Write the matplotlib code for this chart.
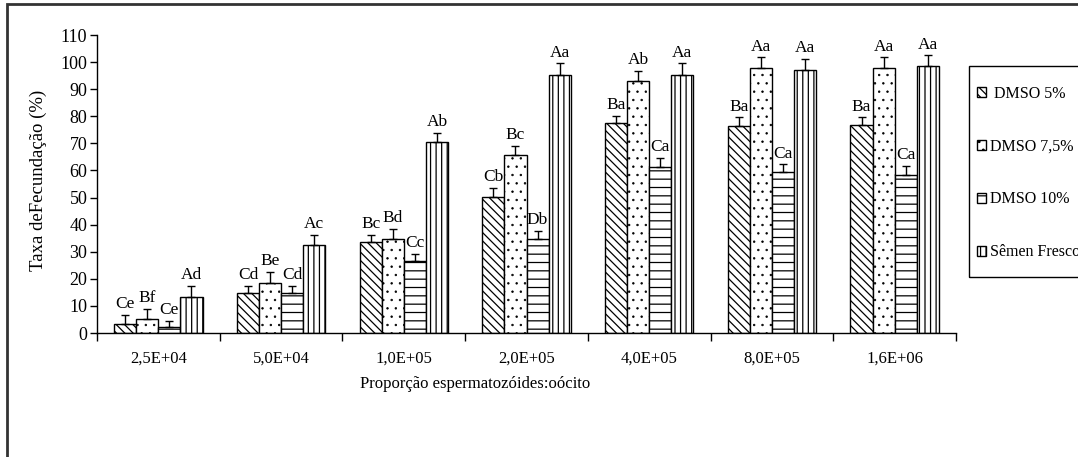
import numpy as np
import matplotlib.pyplot as plt
import matplotlib as mpl
from matplotlib.patches import Rectangle

mpl.rcParams.update({"font.family": ["Liberation Serif", "DejaVu Serif"],
                     "hatch.linewidth": 0.9, "hatch.color": "black"})

categories = ["2,5E+04", "5,0E+04", "1,0E+05", "2,0E+05", "4,0E+05", "8,0E+05", "1,6E+06"]
series = [" DMSO 5%", "DMSO 7,5%", "DMSO 10%", "Sêmen Fresco"]

dmso5 = [3.3, 14.6, 33.5, 50.3, 77.4, 76.3, 76.9]
dmso75 = [5.3, 18.5, 34.8, 65.6, 93.0, 97.7, 97.7]
dmso10 = [2.1, 14.6, 26.5, 34.6, 61.3, 59.3, 58.5]
fresco = [13.3, 32.6, 70.4, 95.2, 95.2, 97.2, 98.4]

err5 = [3.3, 2.9, 2.8, 3.3, 2.8, 3.3, 2.7]
err75 = [3.7, 4.1, 3.7, 3.6, 3.7, 4.0, 4.0]
err10 = [2.4, 2.9, 2.8, 3.0, 3.4, 2.9, 3.2]
errfr = [4.2, 3.6, 3.5, 4.3, 4.3, 4.0, 4.1]

lab5 = ["Ce", "Cd", "Bc", "Cb", "Ba", "Ba", "Ba"]
lab75 = ["Bf", "Be", "Bd", "Bc", "Ab", "Aa", "Aa"]
lab10 = ["Ce", "Cd", "Cc", "Db", "Ca", "Ca", "Ca"]
labfr = ["Ad", "Ac", "Ab", "Aa", "Aa", "Aa", "Aa"]

values = [dmso5, dmso75, dmso10, fresco]
errors = [err5, err75, err10, errfr]
letters = [lab5, lab75, lab10, labfr]
hatches = ["\\\\\\\\", "..", "--", "|||"]

W, H = 1078, 457
fig = plt.figure(figsize=(W / 100, H / 100), dpi=100)
ax = fig.add_axes([97 / W, 1 - 333 / H, 859 / W, 298 / H])

x = np.arange(len(categories)) + 0.5
bw = 0.18
handles = []
for k, (vals, errs, labs, h) in enumerate(zip(values, errors, letters, hatches)):
    pos = x + (k - 1.5) * bw
    bars = ax.bar(pos, vals, bw, facecolor="white", edgecolor="black",
                  linewidth=1.0, hatch=h, label=series[k])
    if h == "..":
        for b in bars:
            b.set_hatch_linewidth(0.5)
    ax.errorbar(pos, vals, yerr=[np.zeros(len(vals)), errs], fmt="none",
                ecolor="black", elinewidth=1.0, capsize=3, capthick=1.0)
    for px, v, e, t in zip(pos, vals, errs, labs):
        ax.annotate(t, (px, v + e), xytext=(0, 2), textcoords="offset points",
                    ha="center", va="bottom", fontsize=12.5)
    handles.append(bars)

ax.set_xlim(0, 7)
ax.set_ylim(0, 110)
ax.set_yticks(np.arange(0, 111, 10))
ax.set_xticks(np.arange(0, 8))
ax.set_xticklabels([])
ax.set_xticks(x, minor=True)
ax.set_xticklabels(categories, minor=True, fontsize=12)
ax.tick_params(axis="x", which="major", length=6, width=1, direction="out")
ax.tick_params(axis="x", which="minor", length=0, pad=13)
ax.tick_params(axis="y", length=5, width=1, direction="out", labelsize=13, pad=2)
for s in ["top", "right"]:
    ax.spines[s].set_visible(False)
for s in ["left", "bottom"]:
    ax.spines[s].set_linewidth(1.0)

fig.text(38 / W, 1 - 180 / H, "Taxa deFecundação (%)", rotation=90,
         ha="center", va="center", fontsize=13.5)
fig.text(475 / W, 1 - 384 / H, "Proporção espermatozóides:oócito",
         ha="center", va="center", fontsize=12)

# legend entries without frame; the box is drawn separately so it can run off the edge
leg = fig.legend(handles, series, loc="upper left",
                 bbox_to_anchor=(977 / W, 1 - 86 / H), frameon=False,
                 fontsize=11.5, handlelength=0.55, handleheight=0.6,
                 handletextpad=0.25, labelspacing=2.3, borderpad=0,
                 borderaxespad=0)
fig.add_artist(Rectangle((969 / W, 1 - 277 / H), 0.2, 211 / H,
                         transform=fig.transFigure, fill=False,
                         edgecolor="black", linewidth=1.0))

fig.add_artist(Rectangle((7 / W, -0.1), 1.2, 1.1 - 4 / H, transform=fig.transFigure,
                         fill=False, edgecolor="#333333", linewidth=2))

fig.savefig("out.png", dpi=100)
